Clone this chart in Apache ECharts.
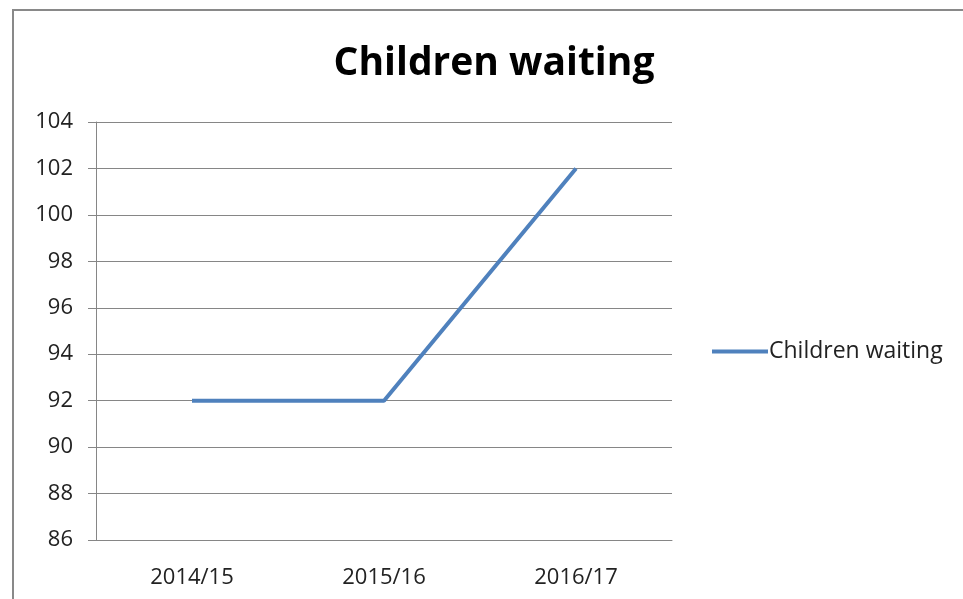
<!DOCTYPE html>
<html>
<head>
    <meta charset="utf-8">
    <title>Children waiting</title>
    <script src="https://cdn.jsdelivr.net/npm/echarts@6/dist/echarts.min.js"></script>
    <style>
        body { margin: 0; background: #fff; }
    </style>
</head>
<body>
    <div id="main" style="width: 963px;height:599px;"></div>
    <script type="text/javascript">
    // data
    var years = ['2014/15', '2015/16', '2016/17'];
    var waiting = [92, 92, 102];

    var myChart = echarts.init(document.getElementById('main'));
    var font = 'Open Sans, Liberation Sans, sans-serif';

    var option = {
        backgroundColor: '#fff',
        animation: false,
        graphic: [{
            type: 'rect',
            shape: { x: 13, y: 10, width: 1000, height: 700 },
            style: { fill: 'none', stroke: '#898989', lineWidth: 2 }
        }],
        title: {
            text: 'Children waiting',
            left: 494,
            top: 44,
            padding: 0,
            textAlign: 'center',
            textStyle: { fontFamily: font, fontWeight: 'bold', fontSize: 39, color: '#000' }
        },
        legend: {
            left: 712,
            top: 340,
            padding: 0,
            itemWidth: 56,
            itemHeight: 4,
            itemGap: 4,
            icon: 'rect',
            textStyle: { fontFamily: font, fontSize: 23, color: '#222', padding: [0, 0, 0, -4] },
            data: ['Children waiting']
        },
        grid: { left: 96, top: 122, width: 576, height: 418 },
        xAxis: {
            type: 'category',
            data: years,
            boundaryGap: true,
            axisLine: { lineStyle: { color: '#868686', width: 1 } },
            axisTick: { length: 7, lineStyle: { color: '#868686' } },
            axisLabel: { fontFamily: font, fontSize: 22, color: '#222', margin: 27 }
        },
        yAxis: {
            type: 'value',
            min: 86,
            max: 104,
            interval: 2,
            axisLine: { show: true, lineStyle: { color: '#868686', width: 1 } },
            axisTick: { show: true, length: 8, lineStyle: { color: '#868686' } },
            splitLine: { lineStyle: { color: '#868686', width: 1 } },
            axisLabel: { fontFamily: font, fontSize: 22, color: '#222', margin: 23 }
        },
        series: [{
            name: 'Children waiting',
            type: 'line',
            data: waiting,
            symbol: 'none',
            itemStyle: { color: '#4F81BD' },
            lineStyle: { color: '#4F81BD', width: 4 }
        }]
    };

    myChart.setOption(option);
    </script>
</body>
</html>
